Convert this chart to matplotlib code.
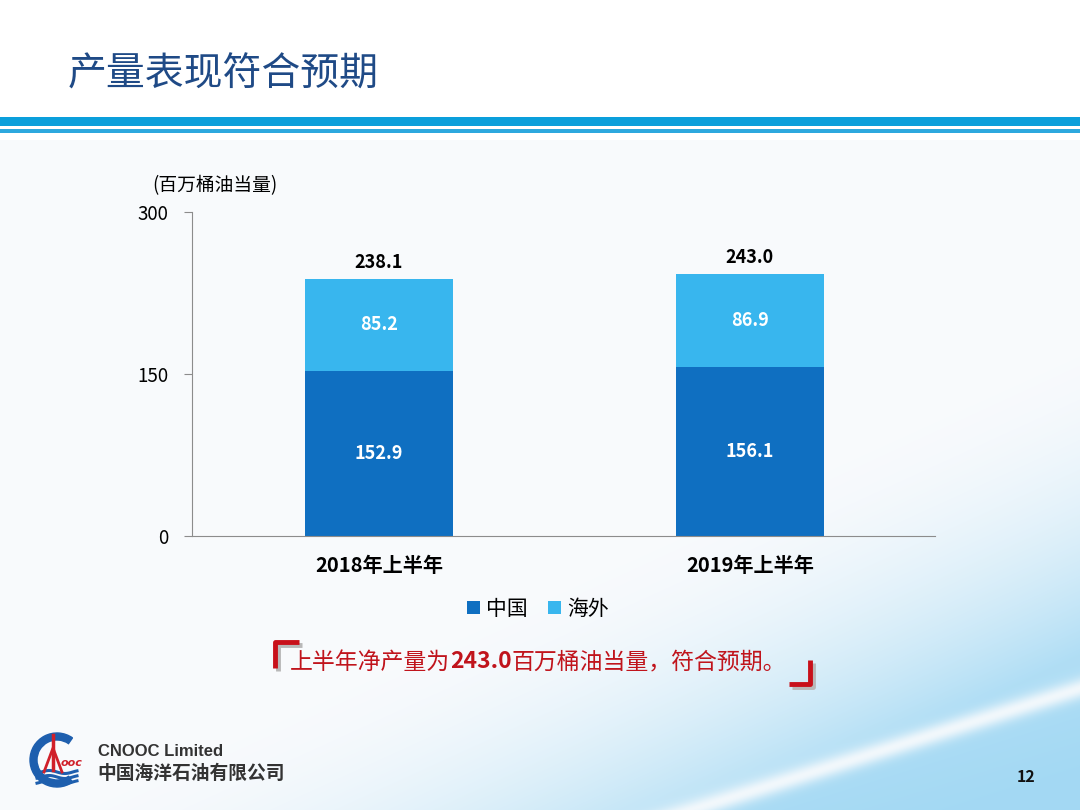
import numpy as np
import matplotlib
matplotlib.use("Agg")
import matplotlib.pyplot as plt
from matplotlib.patches import Rectangle, Wedge

plt.rcParams['font.family'] = ['Noto Sans CJK SC', 'DejaVu Sans']

# data
categories = ["2018年上半年", "2019年上半年"]
china = [152.9, 156.1]
overseas = [85.2, 86.9]
totals = [238.1, 243.0]
series_names = ["中国", "海外"]
yticks = [0, 150, 300]

dark_blue = "#0F6FC1"
light_blue = "#38B6EE"
title_color = "#1F4A86"
red = "#C0141C"

W, H = 1080, 810
fig = plt.figure(figsize=(W / 100, H / 100), dpi=100)

# background: light-blue sweep in the lower right with a white stripe
bg = fig.add_axes([0, 0, 1, 1])
bg.set_xlim(0, W)
bg.set_ylim(H, 0)
bg.axis("off")
xx, yy = np.meshgrid(np.arange(W, dtype=float), np.arange(H, dtype=float))


def below(p, q):
    # signed distance below the line through p and q (pixel coords, y down)
    (x1, y1), (x2, y2) = p, q
    nx, ny = -(y2 - y1), (x2 - x1)
    n = np.hypot(nx, ny)
    return ((xx - x1) * nx + (yy - y1) * ny) / n


d_edge = below((500, 810), (1080, 545))
d_stripe = below((690, 810), (1080, 688))
t = np.clip((d_edge + 200) / 300, 0, 1) ** 2 * 0.85
t = np.where(d_stripe > 0, 0.9 + 0.1 * np.clip(d_stripe / 80, 0, 1), t)
stripe = np.exp(-(d_stripe / 10) ** 2)
t = t * (1 - 0.9 * stripe)
white = np.array([0.975, 0.982, 0.99])
sky = np.array([0.64, 0.85, 0.955])
img = white[None, None, :] * (1 - t[..., None]) + sky[None, None, :] * t[..., None]
img[yy < 140] = 1.0
bg.imshow(img, extent=[0, W, H, 0], aspect="auto", zorder=0)

# header
bg.add_patch(Rectangle((0, 117), W, 9, color="#0A9FDB", lw=0, zorder=1))
bg.add_patch(Rectangle((0, 129), W, 4, color="#2DA8DE", lw=0, zorder=1))
bg.text(68, 75, "产量表现符合预期", fontsize=28, color=title_color,
        va="center", ha="left", zorder=2)

# chart
ax = fig.add_axes([192 / W, 1 - 536 / H, (935 - 192) / W, (536 - 212) / H])
ax.patch.set_alpha(0)
x = np.arange(len(categories))
b1 = ax.bar(x, china, width=0.4, color=dark_blue, label=series_names[0], zorder=2)
b2 = ax.bar(x, overseas, width=0.4, bottom=china, color=light_blue,
            label=series_names[1], zorder=2)
ax.set_xlim(-0.504, 1.499)
ax.set_ylim(0, 300)
ax.set_yticks(yticks)
ax.set_yticklabels([str(v) for v in yticks], fontsize=13.5)
ax.set_xticks(x)
ax.set_xticklabels(categories, fontsize=14.5, fontweight="bold")
ax.tick_params(axis="x", length=0, pad=14)
ax.tick_params(axis="y", length=6, color="#8C8C8C", pad=11)
for s in ["top", "right"]:
    ax.spines[s].set_visible(False)
ax.spines["left"].set_color("#8C8C8C")
ax.spines["bottom"].set_color("#8C8C8C")

for i in range(len(categories)):
    ax.text(x[i], china[i] / 2, f"{china[i]:.1f}", ha="center", va="center",
            color="white", fontsize=13, fontweight="bold")
    ax.text(x[i], china[i] + overseas[i] / 2, f"{overseas[i]:.1f}", ha="center",
            va="center", color="white", fontsize=13, fontweight="bold")
    ax.text(x[i], totals[i] + 6, f"{totals[i]:.1f}", ha="center", va="bottom",
            color="black", fontsize=13, fontweight="bold")

fig.text(152 / W, 1 - 186 / H, "(百万桶油当量)", fontsize=13.5, ha="left", va="center")

leg = fig.legend(handles=[b1, b2], labels=series_names, loc="center",
                 bbox_to_anchor=(538 / W, 1 - 609 / H), ncol=2, frameon=False,
                 fontsize=15, handlelength=0.6, handleheight=0.6,
                 handletextpad=0.3, columnspacing=1.0)

# statement line built from pieces
renderer = fig.canvas.get_renderer()
parts = [("上半年净产量为", "normal"), ("243.0", "bold"),
         ("百万桶油当量，符合预期。", "normal")]
px = 290
for s, w in parts:
    tx = bg.text(px, 662, s, fontsize=16.5, color=red, fontweight=w,
                 ha="left", va="center", zorder=3)
    px += tx.get_window_extent(renderer).width

# brackets with shadow
for off, col, z in [(2.5, "#B8B8B8", 2), (0, "#C8101A", 3)]:
    bg.plot([275 + off, 275 + off, 299 + off], [668 + off, 642 + off, 642 + off],
            color=col, lw=3.5, solid_capstyle="butt", zorder=z)
    bg.plot([789 + off, 810 + off, 810 + off], [684 + off, 684 + off, 660 + off],
            color=col, lw=3.5, solid_capstyle="butt", zorder=z)

# logo
cx, cy = 57, 760
bg.add_patch(Wedge((cx, cy), 27, 55, 305, width=7, color="#1E5FAE", zorder=3))
for yo in [12, 17, 22]:
    xs = np.linspace(cx - 20, cx + 20, 30)
    bg.plot(xs, cy + yo + 1.5 * np.sin((xs - cx) / 5), color="#1E5FAE", lw=2.2, zorder=3)
bg.plot([cx - 4, cx - 4], [735, 770], color="#D0202A", lw=2.5, zorder=4)
bg.plot([cx - 13, cx - 4, cx + 5], [772, 748, 772], color="#D0202A", lw=2, zorder=4)
bg.text(cx + 15, 763, "ooc", color="#D0202A", fontsize=8, fontstyle="italic",
        fontweight="bold", ha="center", va="center", zorder=4, family="DejaVu Sans")
bg.text(98, 752, "CNOOC Limited", fontsize=12, fontweight="bold", color="#333333",
        family="Liberation Sans", ha="left", va="center", zorder=3)
bg.text(97, 773, "中国海洋石油有限公司", fontsize=13.5, fontweight="bold",
        color="#333333", ha="left", va="center", zorder=3)

bg.text(1026, 777, "12", fontsize=11.5, fontweight="bold", color="#111111",
        ha="center", va="center", zorder=3)

fig.savefig("out.png", dpi=100)
